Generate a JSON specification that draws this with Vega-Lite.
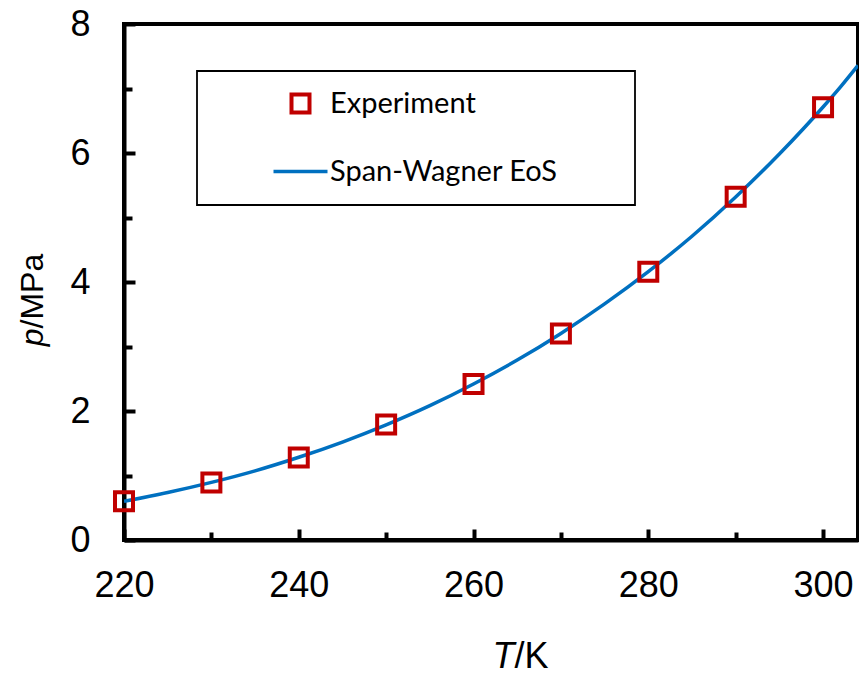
{
  "$schema": "https://vega.github.io/schema/vega-lite/v6.json",
  "autosize": {"type": "none"},
  "width": 734,
  "height": 516,
  "padding": {"left": 124, "top": 24, "right": 1, "bottom": 135},
  "background": "white",
  "config": {
    "view": {"stroke": "black", "strokeWidth": 4},
    "axis": {
      "grid": false,
      "domainColor": "black",
      "domainWidth": 4,
      "tickColor": "black",
      "tickWidth": 4,
      "labelFont": "Liberation Sans",
      "labelFontSize": 36,
      "labelColor": "black",
      "titleFont": "Liberation Sans",
      "titleColor": "black",
      "titleFontWeight": "normal",
      "labelFlush": false,
      "labelOverlap": false
    }
  },
  "datasets": {
    "curve": [
      {"T": 220, "p": 0.5991, "series": "Span-Wagner EoS"},
      {"T": 225, "p": 0.7357, "series": "Span-Wagner EoS"},
      {"T": 230, "p": 0.8929, "series": "Span-Wagner EoS"},
      {"T": 235, "p": 1.0722, "series": "Span-Wagner EoS"},
      {"T": 240, "p": 1.2825, "series": "Span-Wagner EoS"},
      {"T": 245, "p": 1.5189, "series": "Span-Wagner EoS"},
      {"T": 250, "p": 1.785, "series": "Span-Wagner EoS"},
      {"T": 255, "p": 2.0828, "series": "Span-Wagner EoS"},
      {"T": 260, "p": 2.4188, "series": "Span-Wagner EoS"},
      {"T": 265, "p": 2.7895, "series": "Span-Wagner EoS"},
      {"T": 270, "p": 3.203, "series": "Span-Wagner EoS"},
      {"T": 275, "p": 3.6601, "series": "Span-Wagner EoS"},
      {"T": 280, "p": 4.1607, "series": "Span-Wagner EoS"},
      {"T": 285, "p": 4.7092, "series": "Span-Wagner EoS"},
      {"T": 290, "p": 5.3177, "series": "Span-Wagner EoS"},
      {"T": 295, "p": 5.9838, "series": "Span-Wagner EoS"},
      {"T": 300, "p": 6.7131, "series": "Span-Wagner EoS"},
      {"T": 302, "p": 7.0253, "series": "Span-Wagner EoS"},
      {"T": 304, "p": 7.3577, "series": "Span-Wagner EoS"}
    ],
    "exp": [
      {"T": 220, "p": 0.60, "series": "Experiment"},
      {"T": 230, "p": 0.89, "series": "Experiment"},
      {"T": 240, "p": 1.28, "series": "Experiment"},
      {"T": 250, "p": 1.79, "series": "Experiment"},
      {"T": 260, "p": 2.42, "series": "Experiment"},
      {"T": 270, "p": 3.20, "series": "Experiment"},
      {"T": 280, "p": 4.16, "series": "Experiment"},
      {"T": 290, "p": 5.32, "series": "Experiment"},
      {"T": 300, "p": 6.71, "series": "Experiment"}
    ]
  },
  "layer": [
    {
      "data": {"name": "curve"},
      "mark": {"type": "line", "strokeWidth": 3.5, "interpolate": "monotone", "clip": true},
      "encoding": {
        "x": {
          "field": "T", "type": "quantitative",
          "scale": {"domain": [220, 304], "nice": false, "zero": false},
          "axis": {
            "values": [220, 240, 260, 280, 300],
            "tickSize": -11,
            "labelPadding": 39,
            "title": "/K",
            "titleFontSize": 36,
            "titleAlign": "left",
            "titleBaseline": "alphabetic",
            "titleX": 390,
            "titleY": 127,
            "orient": "bottom"
          }
        },
        "y": {
          "field": "p", "type": "quantitative",
          "scale": {"domain": [0, 8], "nice": false},
          "axis": {
            "values": [0, 2, 4, 6, 8],
            "tickSize": -11,
            "labelPadding": 45,
            "title": "/MPa",
            "titleFontSize": 32,
            "titleAngle": 270,
            "titleAlign": "left",
            "titleBaseline": "alphabetic",
            "titleX": -82,
            "titleY": 304,
            "orient": "left"
          }
        },
        "color": {
          "field": "series", "type": "nominal",
          "scale": {"domain": ["Experiment", "Span-Wagner EoS"], "range": ["#C00000", "#0070C0"]},
          "legend": {
            "orient": "none",
            "legendX": 73,
            "legendY": 47,
            "title": null,
            "fillColor": "white",
            "strokeColor": "black",
            "padding": 18,
            "symbolOffset": 71,
            "labelOffset": 15,
            "labelFont": "Lato",
            "labelFontSize": 29,
            "labelColor": "black",
            "labelLimit": 0,
            "rowPadding": 36,
            "symbolSize": 2916,
            "symbolType": "stroke",
            "symbolStrokeWidth": 3,
            "encode": {
              "legend": {"update": {"strokeWidth": {"value": 1.8}}},
              "symbols": {
                "update": {
                  "shape": {"signal": "datum.value === 'Experiment' ? 'square' : 'M-1,0H1M11.45,0'"},
                  "size": {"signal": "datum.value === 'Experiment' ? 324 : 2916"},
                  "strokeWidth": {"signal": "datum.value === 'Experiment' ? 4 : 3.5"},
                  "fill": {"value": "transparent"},
                  "stroke": {"signal": "datum.value === 'Experiment' ? '#C00000' : '#0070C0'"}
                }
              }
            }
          }
        }
      }
    },
    {
      "data": {"name": "exp"},
      "mark": {"type": "point", "shape": "square", "filled": false, "size": 324, "strokeWidth": 4, "opacity": 1},
      "encoding": {
        "x": {
          "field": "T", "type": "quantitative",
          "axis": {
            "values": [230, 250, 270, 290],
            "tickSize": -8,
            "labels": false,
            "domain": false,
            "title": "T",
            "titleFontSize": 36,
            "titleFontStyle": "italic",
            "titleAlign": "right",
            "titleBaseline": "alphabetic",
            "titleX": 390,
            "titleY": 127,
            "orient": "bottom"
          }
        },
        "y": {
          "field": "p", "type": "quantitative",
          "axis": {
            "values": [1, 3, 5, 7],
            "tickSize": -8,
            "labels": false,
            "domain": false,
            "title": "p",
            "titleFontSize": 32,
            "titleFontStyle": "italic",
            "titleAngle": 270,
            "titleAlign": "right",
            "titleBaseline": "alphabetic",
            "titleX": -82,
            "titleY": 304,
            "orient": "left"
          }
        },
        "color": {"field": "series", "type": "nominal"}
      }
    }
  ],
  "resolve": {"axis": {"x": "independent", "y": "independent"}}
}
